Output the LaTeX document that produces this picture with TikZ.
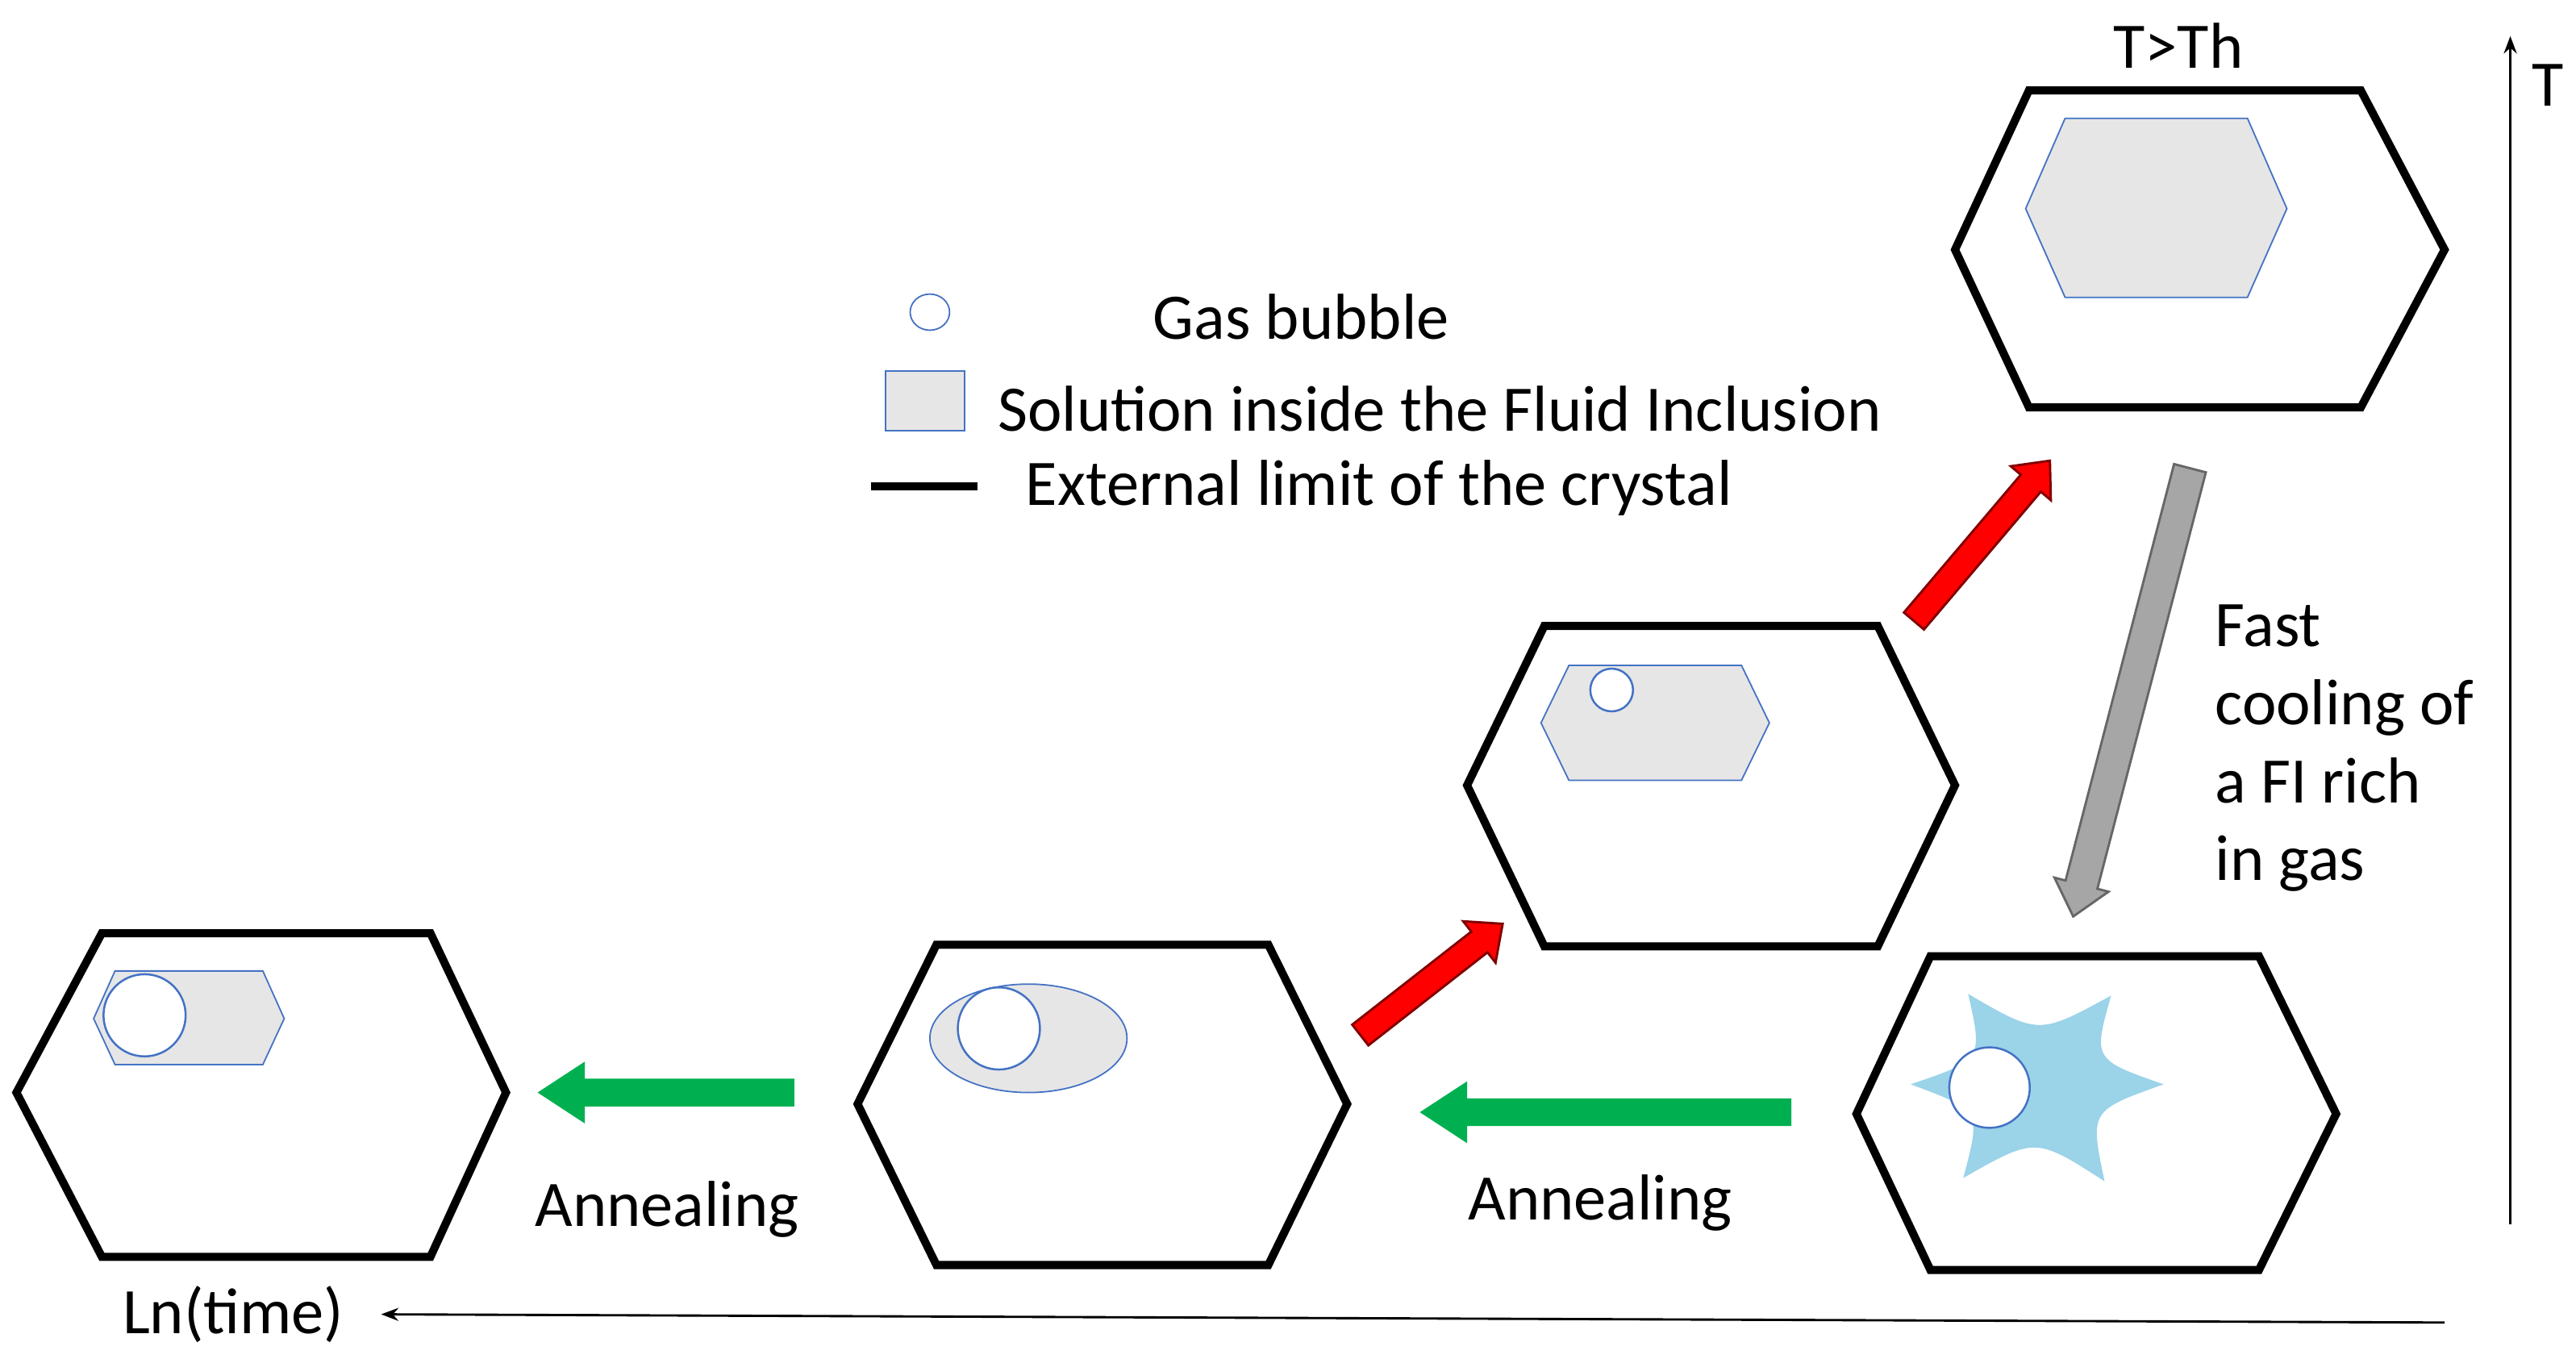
\documentclass[tikz,border=0pt]{standalone}
\usepackage{fontspec}
\setmainfont{Carlito}
\usetikzlibrary{shapes.geometric,arrows.meta}
\definecolor{incl}{HTML}{E6E6E6}
\definecolor{bub}{HTML}{4472C4}
\definecolor{star}{HTML}{9BD3E8}
\definecolor{grn}{HTML}{00B050}
\tikzset{
 crystal/.style={line width=2.8pt,line join=miter},
 sol/.style={fill=incl,draw=bub,line width=0.5pt},
 bubble/.style={fill=white,draw=bub,line width=0.7pt},
 lbl/.style={font=\fontsize{22.5}{27}\selectfont,inner sep=0pt},
 redar/.style={fill=red,draw=red!50!black,line width=0.8pt},
 grnar/.style={fill=grn,draw=grn,line width=0.5pt},
 grayar/.style={fill=black!35,draw=black!60,line width=0.8pt},
}
% #1 style, #2 start, #3 angle, #4 length, #5 shaft half, #6 head half, #7 head length (cm)
\newcommand{\blockarrow}[7]{%
 \begin{scope}[shift={#2},rotate=#3,x=1cm,y=1cm]
 \draw[#1] (0,-#5)--({#4-#7},-#5)--({#4-#7},-#6)--(#4,0)--({#4-#7},#6)--({#4-#7},#5)--(0,#5)--cycle;
 \end{scope}}
\begin{document}
\begin{tikzpicture}[x=0.02cm,y=-0.02cm]
\useasboundingbox (0,0) rectangle (1568,827);
% crystals
\draw[crystal] (10,665)--(62,568)--(262,568)--(308,665)--(262,765)--(62,765)--cycle;
\draw[crystal] (522,672)--(570,575)--(772,575)--(820,672)--(772,770)--(570,770)--cycle;
\draw[crystal] (893,478)--(940,381)--(1143,381)--(1190,478)--(1143,576)--(940,576)--cycle;
\draw[crystal] (1190,152)--(1235,55)--(1437,55)--(1488,152)--(1437,248)--(1235,248)--cycle;
\draw[crystal] (1130,678)--(1175,582)--(1375,582)--(1422,678)--(1375,773)--(1175,773)--cycle;
% inclusions
\draw[sol] (57,620)--(70,591)--(160,591)--(173,620)--(160,648)--(70,648)--cycle;
\node[bubble,circle,minimum size=1cm,inner sep=0pt] (b1) at (88,618) {};
\draw[sol] (626,632) ellipse [x radius=60,y radius=33];
\node[bubble,circle,minimum size=1cm,inner sep=0pt] (b2) at (608,626) {};
\draw[sol] (938,440)--(955,405)--(1060,405)--(1077,440)--(1060,475)--(955,475)--cycle;
\node[bubble,circle,minimum size=0.52cm,inner sep=0pt] (b3) at (981,420) {};
\draw[sol] (1233,127)--(1257,72)--(1368,72)--(1392,127)--(1368,181)--(1257,181)--cycle;
\fill[star] (1163,660) .. controls (1207,645) .. (1198,605) .. controls (1241,630) .. (1285,606)
 .. controls (1274,645) .. (1317,660) .. controls (1272,676) .. (1281,719)
 .. controls (1239,692) .. (1195,717) .. controls (1206,676) .. (1163,660) -- cycle;
\node[bubble,circle,minimum size=0.98cm,inner sep=0pt] (b5) at (1211,662) {};
% legend
\node[draw=bub,line width=0.5pt,ellipse,minimum width=0.48cm,minimum height=0.44cm,inner sep=0pt] (lgb) at (566,190) {};
\node[sol,minimum width=0.96cm,minimum height=0.72cm,inner sep=0pt] (lgs) at (563,244) {};
\coordinate (lla) at (530,296); \coordinate (llb) at (595,296);
\draw[line width=3pt] (lla)--(llb);
\node[lbl] (t1) at (792,193) {Gas bubble};
\node[lbl,anchor=west] (t2) at (607,249) {Solution inside the Fluid Inclusion};
\node[lbl,anchor=west] (t3) at (624,297) {External limit of the crystal};
% arrows
\blockarrow{redar}{(828,630)}{38}{2.2}{0.16}{0.32}{0.36}
\blockarrow{redar}{(1165,378)}{49.7}{2.56}{0.16}{0.32}{0.36}
\blockarrow{grayar}{(1333,285)}{255.4}{5.64}{0.2}{0.34}{0.4}
\blockarrow{grnar}{(1090,677)}{180}{4.5}{0.16}{0.36}{0.55}
\blockarrow{grnar}{(483,665)}{180}{3.1}{0.16}{0.36}{0.55}
% texts
\node[lbl] (th) at (1326,28) {T>Th};
\node[lbl,anchor=north west,align=left] (fc) at (1348,368) {Fast\\cooling of\\a FI rich\\in gas};
\node[lbl] (an1) at (406,736) {Annealing};
\node[lbl] (an2) at (974,732) {Annealing};
\node[lbl] (lt) at (142,800) {Ln(time)};
\node[lbl] (tt) at (1551,52) {T};
% axes
\coordinate (ta) at (1528,745); \coordinate (tb) at (1528,22);
\draw[line width=0.8pt,-{Stealth[length=6pt]}] (ta)--(tb);
\coordinate (xa) at (1488,805); \coordinate (xb) at (232,800);
\draw[line width=0.8pt,-{Stealth[length=6pt]}] (xa)--(xb);
\end{tikzpicture}
\end{document}
